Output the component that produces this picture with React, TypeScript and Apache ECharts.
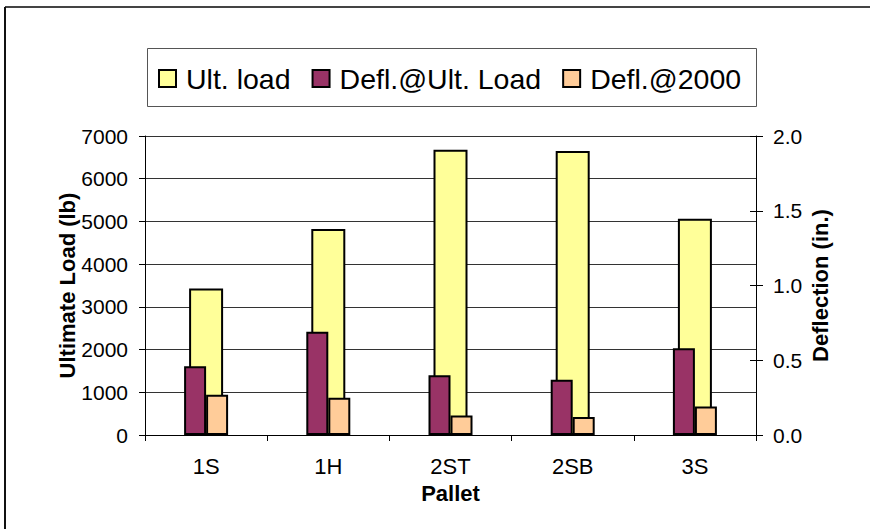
import React, { useEffect, useRef } from "react";
import * as echarts from "echarts";

const categories = ["1S", "1H", "2ST", "2SB", "3S"];
const ultLoad = [3430, 4820, 6680, 6650, 5060];
const deflUlt = [0.46, 0.69, 0.4, 0.37, 0.58];
const defl2000 = [0.27, 0.25, 0.13, 0.12, 0.19];
const seriesNames = ["Ult. load", "Defl.@Ult. Load", "Defl.@2000"];

const FONT = "Liberation Sans, Arial, sans-serif";

export default function App() {
  const ref = useRef<HTMLDivElement>(null);
  useEffect(() => {
    if (!ref.current) return;
    const chart = echarts.init(ref.current, undefined, { renderer: "svg" });
    chart.setOption({
      animation: false,
      backgroundColor: "#fff",
      textStyle: { fontFamily: FONT, color: "#000" },
      graphic: [
        { type: "line", shape: { x1: 5, y1: 7, x2: 870, y2: 7 }, style: { stroke: "#444", lineWidth: 2 } },
        { type: "line", shape: { x1: 5, y1: 7, x2: 5, y2: 529 }, style: { stroke: "#111", lineWidth: 2 } },
        { type: "rect", shape: { x: 147.5, y: 48.5, width: 609, height: 58 }, style: { fill: "none", stroke: "#555", lineWidth: 1 } },
      ],
      legend: {
        data: seriesNames,
        left: 158,
        top: 64,
        padding: 0,
        itemWidth: 17,
        itemHeight: 17,
        itemGap: 21,
        icon: "rect",
        textStyle: { fontSize: 28.5, fontFamily: FONT, color: "#000", padding: [0, 0, 0, 5] },
      },
      grid: { left: 145, right: 114, top: 136, bottom: 94, containLabel: false },
      xAxis: [
        {
          type: "category",
          data: categories,
          axisLine: { lineStyle: { color: "#000", width: 1 } },
          axisTick: { show: true, length: 6, lineStyle: { color: "#000" } },
          axisLabel: { fontSize: 22, color: "#000", margin: 20, fontFamily: FONT },
          name: "Pallet",
          nameLocation: "middle",
          nameGap: 47,
          nameMoveOverlap: false,
          nameTextStyle: { fontSize: 22, fontWeight: "bold", color: "#000", fontFamily: FONT },
        },
        { type: "category", data: categories, show: false },
      ],
      yAxis: [
        {
          type: "value",
          min: 0,
          max: 7000,
          interval: 1000,
          position: "left",
          axisLine: { show: true, lineStyle: { color: "#000", width: 1 } },
          axisTick: { show: true, length: 6, lineStyle: { color: "#000" } },
          axisLabel: { fontSize: 21, color: "#000", margin: 17, fontFamily: FONT, formatter: (v: number) => String(v) },
          splitLine: { show: true, lineStyle: { color: "#333", width: 1 } },
          name: "Ultimate Load (lb)",
          nameLocation: "middle",
          nameRotate: 90,
          nameGap: 67,
          nameMoveOverlap: false,
          nameTextStyle: { fontSize: 22, fontWeight: "bold", color: "#000", fontFamily: FONT },
        },
        {
          type: "value",
          min: 0,
          max: 2,
          interval: 0.5,
          position: "right",
          axisLine: { show: true, lineStyle: { color: "#000", width: 1 } },
          axisTick: { show: true, length: 7, lineStyle: { color: "#000" } },
          axisLabel: { fontSize: 21, color: "#000", margin: 17, fontFamily: FONT, formatter: (v: number) => v.toFixed(1) },
          splitLine: { show: false },
          name: "Deflection (in.)",
          nameLocation: "middle",
          nameRotate: 90,
          nameGap: 53,
          nameMoveOverlap: false,
          nameTextStyle: { fontSize: 22, fontWeight: "bold", color: "#000", fontFamily: FONT },
        },
        {
          type: "value",
          min: 0,
          max: 2,
          interval: 0.5,
          position: "right",
          axisLine: { show: false },
          axisTick: { show: true, inside: true, length: 6, lineStyle: { color: "#000" } },
          axisLabel: { show: false },
          splitLine: { show: false },
        },
      ],
      series: [
        {
          name: seriesNames[0],
          type: "bar",
          xAxisIndex: 0,
          yAxisIndex: 0,
          data: ultLoad,
          barWidth: 34,
          itemStyle: { color: "#FFFF99", borderColor: "#000", borderWidth: 2 },
        },
        {
          name: seriesNames[1],
          type: "bar",
          xAxisIndex: 1,
          yAxisIndex: 1,
          data: deflUlt,
          barWidth: 22,
          barGap: "0%",
          itemStyle: { color: "#993366", borderColor: "#000", borderWidth: 2 },
        },
        {
          name: seriesNames[2],
          type: "bar",
          xAxisIndex: 1,
          yAxisIndex: 1,
          data: defl2000,
          barWidth: 22,
          barGap: "0%",
          itemStyle: { color: "#FFCC99", borderColor: "#000", borderWidth: 2 },
        },
      ],
    });
    return () => chart.dispose();
  }, []);
  return <div ref={ref} style={{ position: "fixed", left: 0, top: 0, width: 870, height: 529 }} />;
}
